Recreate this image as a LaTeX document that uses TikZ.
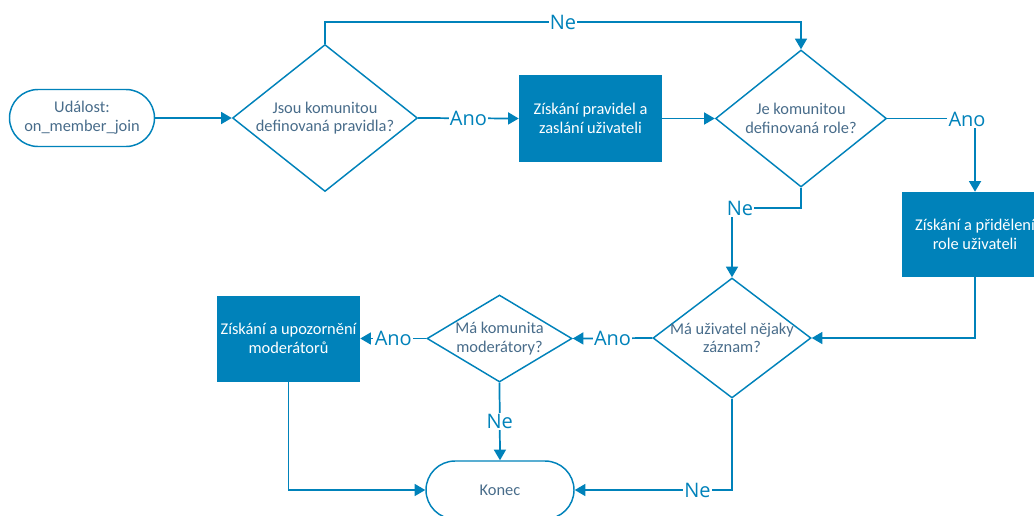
\documentclass[tikz,border=0pt]{standalone}
\usepackage{fontspec}
\setmainfont{Carlito}
\newfontfamily\lblfont{Open Sans}
\usetikzlibrary{shapes.geometric,shapes.misc,arrows.meta}
\definecolor{fcblue}{RGB}{0,130,186}
\definecolor{fctext}{RGB}{72,108,138}
\begin{document}
\begin{tikzpicture}[x=0.75pt,y=-0.75pt,
  dia/.style={diamond,draw=fcblue,line width=1.1pt,inner sep=0pt,aspect=1},
  dtext/.style={align=center,text=fctext,font=\fontsize{12.3}{14}\selectfont,inner sep=0pt},
  pill/.style={rounded rectangle,draw=fcblue,line width=1.1pt,text=fctext,align=center,font=\fontsize{12.3}{14}\selectfont,inner sep=0pt},
  fbox/.style={rectangle,fill=fcblue,text=white,align=center,font=\fontsize{12.3}{14}\selectfont,inner sep=0pt},
  conn/.style={draw=fcblue,line width=1.3pt,-{Triangle[length=8pt,width=9pt]}},
  lbl/.style={fill=white,text=fcblue,font=\lblfont\fontsize{15}{18}\selectfont,inner sep=1pt}]
\useasboundingbox (0,0) rectangle (1034,515);
\clip (0,0) rectangle (1034,515);
% nodes
\node[pill,minimum width=108.75pt,minimum height=42.75pt] (start) at (82,118) {Událost:\\on\_member\_join};
\node[dia,minimum width=138.75pt,minimum height=110.25pt] (d1) at (325,118) {};
\node[dtext] (d1t) at (d1) {Jsou komunitou\\definovaná pravidla?};
\node[fbox,minimum width=107.25pt,minimum height=65.25pt] (b1) at (590.5,118.5) {Získání pravidel a\\zaslání uživateli};
\node[dia,minimum width=128.25pt,minimum height=102.75pt] (d2) at (801,118.5) {};
\node[dtext] (d2t) at (d2) {Je komunitou\\definovaná role?};
\node[fbox,minimum width=109.5pt,minimum height=63.75pt] (b2) at (975,234.5) {Získání a přidělení\\role uživateli};
\node[dia,minimum width=118.5pt,minimum height=90pt] (d3) at (732,338) {};
\node[dtext] (d3t) at (d3) {Má uživatel nějaky\\záznam?};
\node[dia,minimum width=108.75pt,minimum height=65.25pt] (d4) at (499.5,338.5) {};
\node[dtext] (d4t) at (d4) {Má komunita\\moderátory?};
\node[fbox,minimum width=107.25pt,minimum height=64.5pt] (b3) at (288.5,338.5) {Získání a upozornění\\moderátorů};
\node[pill,minimum width=111pt,minimum height=43.5pt] (end) at (500,490) {Konec};
\coordinate (topline) at (0,22);
\coordinate (neline) at (0,208);
% connectors
\draw[conn] (start) -- (d1);
\draw[conn] (d1.east) -- node[lbl]{Ano} (b1.west);
\draw[conn] (b1.east) -- (d2.west);
\draw[conn] (d1.north) -- (d1.north |- topline) -- node[lbl]{Ne} (d2.north |- topline) -- (d2.north);
\draw[conn] (d2.east) -- (b2.north |- d2.east) node[lbl,xshift=-6pt,yshift=-1pt]{Ano} -- (b2.north);
\draw[conn] (b2.south) |- (d3.east);
\draw[conn] (d2.south) -- (d2.south |- neline) -- (d3.north |- neline) node[lbl,xshift=6pt]{Ne} -- (d3.north);
\draw[conn] (d3.west) -- node[lbl]{Ano} (d4.east);
\draw[conn] (d4.west) -- node[lbl]{Ano} (b3.east);
\draw[conn] (d4.south) -- node[lbl]{Ne} (end.north);
\draw[conn] (b3.south) |- (end.west);
\draw[conn] (d3.south) |- node[lbl,pos=0.61]{Ne} (end.east);
\end{tikzpicture}
\end{document}
